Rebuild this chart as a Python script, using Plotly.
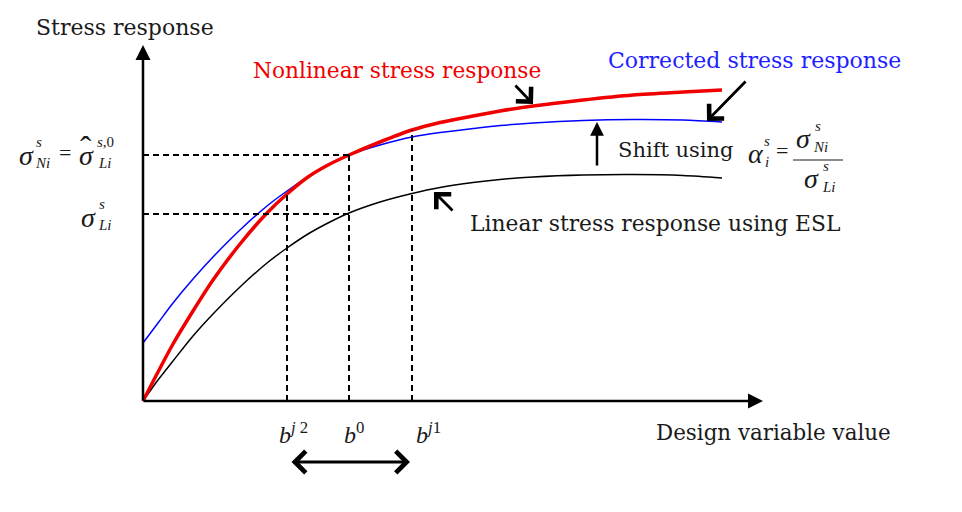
import plotly.graph_objects as go

# ---------------- data (design variable b vs stress, arbitrary units) ----------------
b_grid = [0, 15, 30, 50, 70, 97, 124, 144, 165, 185, 206, 237, 269, 297, 330, 357, 390, 440, 490, 540, 579]
s_nonlinear = [0, 29, 57, 90, 121, 157, 188, 207, 224, 236, 246, 259, 271, 278.5, 285, 290, 295, 301, 306, 309, 311]
s_corrected = [58, 78, 98, 122, 144, 171, 195, 210, 224, 236, 246, 256, 264, 268.5, 272.5, 275.5, 278, 280.5, 281.5, 281, 279]
s_linear = [0, 21, 40, 65, 87, 114, 138, 153, 167, 178, 188, 199, 207.5, 213.5, 218.5, 221.5, 224, 226, 226.5, 225.5, 223]

b_points = [144, 206, 269]            # b^{j2}, b^0, b^{j1}
b_point_stress = [207, 246, 271]      # nonlinear response at those points
b_labels = ["<i>b</i><sup><i>j</i> 2</sup>", "<i>b</i><sup>0</sup>", "<i>b</i><sup><i>j</i>1</sup>"]
sigma_levels = [246, 187]             # sigma_Ni (= sigma_hat_Li^{s,0}), sigma_Li

# ---------------- helpers: pixel-ish placement for annotations ----------------
OX, OY = 143, 401
def X(px): return px - OX
def Y(py): return OY - py

SERIF = "DejaVu Serif"
MATH = "Liberation Serif"
INK = "#1a1a1a"

fig = go.Figure()

fig.add_trace(go.Scatter(x=b_grid, y=s_linear, mode="lines",
                         line=dict(color="black", width=1.5, shape="spline", smoothing=0.8), hoverinfo="skip"))
fig.add_trace(go.Scatter(x=b_grid, y=s_corrected, mode="lines",
                         line=dict(color="rgb(0,0,255)", width=1.5, shape="spline", smoothing=0.8), hoverinfo="skip"))
fig.add_trace(go.Scatter(x=b_grid, y=s_nonlinear, mode="lines",
                         line=dict(color="rgb(240,0,0)", width=3.5, shape="spline", smoothing=0.8), hoverinfo="skip"))

# dashed guide lines
for bv, sv in zip(b_points, b_point_stress):
    fig.add_trace(go.Scatter(x=[bv, bv], y=[0, sv], mode="lines",
                             line=dict(color="black", width=2, dash="6px,4px"), hoverinfo="skip"))
for lv in sigma_levels:
    fig.add_trace(go.Scatter(x=[0, b_points[1]], y=[lv, lv], mode="lines",
                             line=dict(color="black", width=2, dash="6px,4px"), hoverinfo="skip"))

ann = []
def text(px, py, t, size=22, color=INK, family=SERIF, xanchor="left"):
    ann.append(dict(x=X(px), y=Y(py), text=t, showarrow=False, xanchor=xanchor, yanchor="middle",
                    font=dict(family=family, size=size, color=color)))

def arrow(tx, ty, hx, hy, head=2, width=2.5, size=1.2, both=False):
    d = dict(x=X(hx), y=Y(hy), ax=X(tx), ay=Y(ty), xref="x", yref="y", axref="x", ayref="y",
             text="", showarrow=True, arrowhead=head, arrowwidth=width, arrowsize=size,
             arrowcolor="black", standoff=0, startstandoff=0)
    if both:
        d.update(arrowside="end+start", startarrowhead=head, startarrowsize=size)
    ann.append(d)

# axes with arrowheads
arrow(143, 402, 143, 45, head=2, width=2.5, size=1.2)
arrow(142, 401, 763, 401, head=2, width=2.5, size=1.2)

# labels
text(34, 27, "Stress response", size=22)
text(251, 70, "Nonlinear stress response", size=21.7, color="rgb(240,0,0)")
text(606, 60, "Corrected stress response", size=22, color="rgb(30,30,255)")
text(616, 150, "Shift using", size=21)
text(468, 223, "Linear stress response using ESL", size=21.8)
text(654, 432, "Design variable value", size=21.4)

for bv, lab, dx in zip(b_points, b_labels, [6, 5, 16]):
    ann.append(dict(x=bv, y=Y(433), text=lab, showarrow=False, xanchor="center", yanchor="middle",
                    xshift=dx, font=dict(family=MATH, size=24, color=INK)))

# left formula: sigma^s_Ni = sigma_hat^{s,0}_Li
text(17, 155, "<i>σ</i>", size=28, family=MATH)
text(34, 142, "<i>s</i>", size=15, family=MATH)
text(33, 163, "<i>Ni</i>", size=15, family=MATH)
text(57, 152, "=", size=22, family=MATH)
text(77, 155, "<i>σ</i>", size=28, family=MATH)
text(78, 148, "ˆ", size=34, family=MATH)
text(95, 142, "<i>s</i>,0", size=15, family=MATH)
text(96, 163, "<i>Li</i>", size=15, family=MATH)

# sigma^s_Li
text(79, 217, "<i>σ</i>", size=28, family=MATH)
text(97, 204, "<i>s</i>", size=15, family=MATH)
text(96, 225, "<i>Li</i>", size=15, family=MATH)

# alpha formula
text(746, 153, "<i>α</i>", size=28, family=MATH)
text(762, 141, "<i>s</i>", size=15, family=MATH)
text(763, 162, "<i>i</i>", size=15, family=MATH)
text(774, 150, "=", size=22, family=MATH)
text(794, 138, "<i>σ</i>", size=28, family=MATH)
text(813, 126, "<i>s</i>", size=15, family=MATH)
text(811, 147, "<i>Ni</i>", size=15, family=MATH)
text(802, 178, "<i>σ</i>", size=28, family=MATH)
text(821, 166, "<i>s</i>", size=15, family=MATH)
text(820, 187, "<i>Li</i>", size=15, family=MATH)

shapes = [dict(type="line", xref="x", yref="y", x0=X(793), x1=X(843), y0=Y(160), y1=Y(160),
               line=dict(color=INK, width=1))]

# pointer arrows
arrow(514, 84, 533, 104, head=4, width=2.8, size=1.45)
arrow(747, 80, 707, 121, head=4, width=2.8, size=1.45)
arrow(454, 212, 434, 192, head=4, width=2.8, size=1.45)
arrow(597, 167, 597, 122, head=2, width=2.5, size=1.1)
arrow(290, 462, 410, 462, head=4, width=2.8, size=1.5, both=True)

fig.update_layout(
    width=962, height=512,
    margin=dict(l=0, r=0, t=0, b=0),
    paper_bgcolor="white", plot_bgcolor="white",
    showlegend=False,
    xaxis=dict(range=[X(0), X(962)], visible=False, fixedrange=True),
    yaxis=dict(range=[Y(512), Y(0)], visible=False, fixedrange=True),
    annotations=ann, shapes=shapes,
)

fig.write_html("out.html")
